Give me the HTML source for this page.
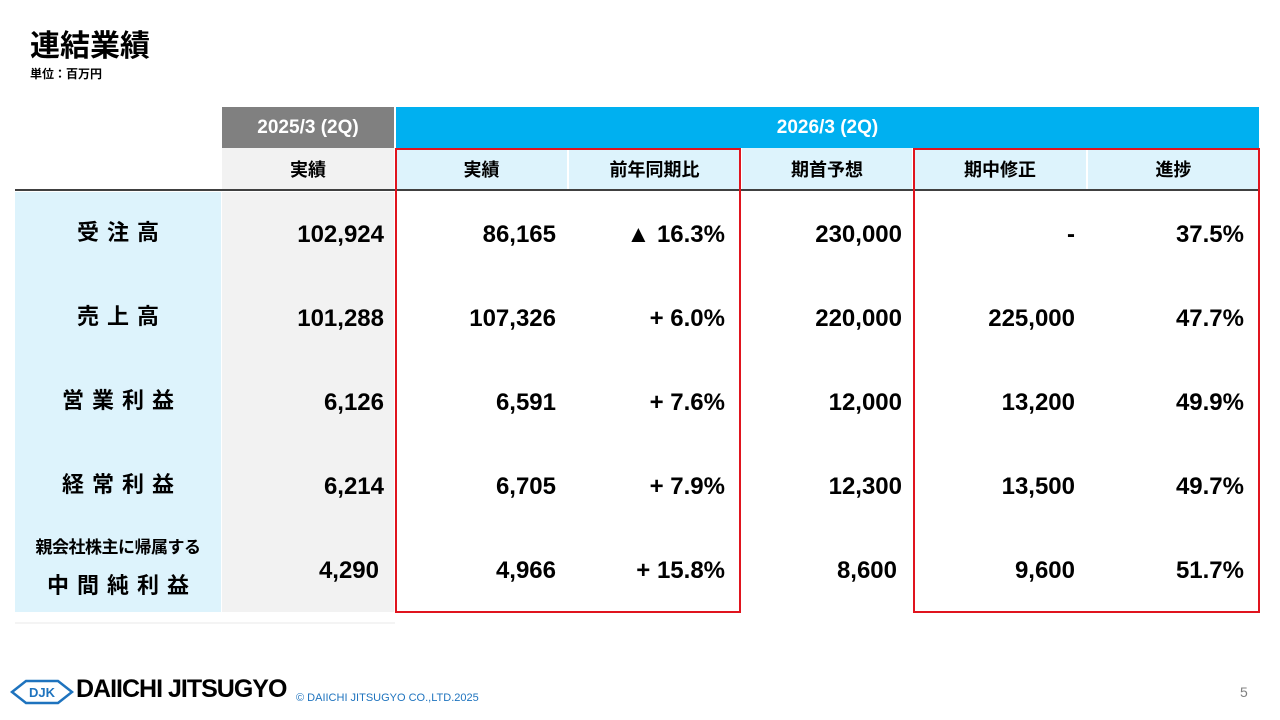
<!DOCTYPE html>
<html lang="ja"><head><meta charset="utf-8">
<style>
*{margin:0;padding:0;box-sizing:border-box}
body{width:1280px;height:720px;background:#fff;position:relative;overflow:hidden;font-family:"Liberation Sans","Noto Sans CJK JP",sans-serif;color:#000}
.a{position:absolute}
.c{position:absolute;display:flex;align-items:center;justify-content:center;font-weight:bold}
.num{position:absolute;font-weight:bold;font-size:24px;text-align:right;line-height:84px}
.lab{font-size:22px;letter-spacing:8px;padding-left:8px}
</style></head><body>
<div class="a" style="left:30px;top:21px;font-size:30px;font-weight:bold">連結業績</div>
<div class="a" style="left:30px;top:65px;font-size:12px;font-weight:bold">単位：百万円</div>

<div class="c" style="left:222px;top:107px;width:172px;height:41px;background:#808080;color:#fff;font-size:19px">2025/3 (2Q)</div>
<div class="c" style="left:396px;top:107px;width:863px;height:41px;background:#00b0f0;color:#fff;font-size:19px">2026/3 (2Q)</div>
<div class="c" style="left:222px;top:148px;width:172px;height:42px;background:#f2f2f2;font-size:18px">実績</div>
<div class="c" style="left:396px;top:148px;width:171px;height:42px;background:#ddf3fc;font-size:18px">実績</div>
<div class="c" style="left:569px;top:148px;width:171px;height:42px;background:#ddf3fc;font-size:18px">前年同期比</div>
<div class="c" style="left:742px;top:148px;width:170px;height:42px;background:#ddf3fc;font-size:18px">期首予想</div>
<div class="c" style="left:914px;top:148px;width:172px;height:42px;background:#ddf3fc;font-size:18px">期中修正</div>
<div class="c" style="left:1088px;top:148px;width:171px;height:42px;background:#ddf3fc;font-size:18px">進捗</div>
<div class="a" style="left:15px;top:189px;width:1244px;height:2px;background:#404040"></div>

<div class="a" style="left:15px;top:192px;width:206px;height:420px;background:#ddf3fc"></div>
<div class="a" style="left:222px;top:192px;width:172px;height:420px;background:#f2f2f2"></div>
<div class="a" style="left:15px;top:622px;width:380px;height:2px;background:#f4f4f4"></div>

<div class="c lab" style="left:15px;top:192px;width:206px;height:78px">受注高</div>
<div class="c lab" style="left:15px;top:276px;width:206px;height:78px">売上高</div>
<div class="c lab" style="left:15px;top:360px;width:206px;height:78px">営業利益</div>
<div class="c lab" style="left:15px;top:444px;width:206px;height:78px">経常利益</div>
<div class="c" style="left:15px;top:532px;width:206px;height:26px;font-size:17px;letter-spacing:-0.5px">親会社株主に帰属する</div>
<div class="c lab" style="left:15px;top:569px;width:206px;height:30px">中間純利益</div>

<div id="cells"></div>

<div class="a" style="left:395px;top:148px;width:346px;height:465px;border:2px solid #e0141e"></div>
<div class="a" style="left:913px;top:148px;width:347px;height:465px;border:2px solid #e0141e"></div>

<svg class="a" style="left:10px;top:678px" width="64" height="28" viewBox="0 0 64 28">
<polygon points="2,14 16,3 48,3 62,14 48,25 16,25" fill="#fff" stroke="#1e73be" stroke-width="2.5"/>
<text x="32" y="19" font-size="13" font-weight="bold" fill="#1e73be" text-anchor="middle" font-family="Liberation Sans">DJK</text>
</svg>
<div class="a" style="left:76px;top:675px;font-size:25px;font-weight:bold;letter-spacing:-1px">DAIICHI JITSUGYO</div>
<div class="a" style="left:296px;top:692px;font-size:11px;color:#1e73be">© DAIICHI JITSUGYO CO.,LTD.2025</div>
<div class="a" style="left:1240px;top:684px;font-size:14px;color:#808080">5</div>

<script>
const rowKeys = ['orders','sales','operating-profit','ordinary-profit','net-income'];
const prevActual = ['102,924','101,288','6,126','6,214','4,290'];
const curActual = ['86,165','107,326','6,591','6,705','4,966'];
const yoy = ['▲ 16.3%','+ 6.0%','+ 7.6%','+ 7.9%','+ 15.8%'];
const initialForecast = ['230,000','220,000','12,000','12,300','8,600'];
const revisedForecast = ['-','225,000','13,200','13,500','9,600'];
const progress = ['37.5%','47.7%','49.9%','49.7%','51.7%'];
const cols = [
 {name:'prev-actual', vals:prevActual, right:384},
 {name:'actual', vals:curActual, right:556},
 {name:'yoy', vals:yoy, right:725},
 {name:'initial-forecast', vals:initialForecast, right:902},
 {name:'revised-forecast', vals:revisedForecast, right:1075},
 {name:'progress', vals:progress, right:1244}
];
const host = document.getElementById('cells');
cols.forEach(c=>{
  c.vals.forEach((v,i)=>{
    const d=document.createElement('div');
    d.className='num';
    
    
    let r=c.right;
    if(i===4 && (c.name==='prev-actual'||c.name==='initial-forecast')) r-=5;
    d.style.left=(r-170)+'px';
    d.style.width='170px';
    d.style.top=(193+i*84)+'px';
    d.textContent=v;
    host.appendChild(d);
  });
});
</script>
</body></html>
